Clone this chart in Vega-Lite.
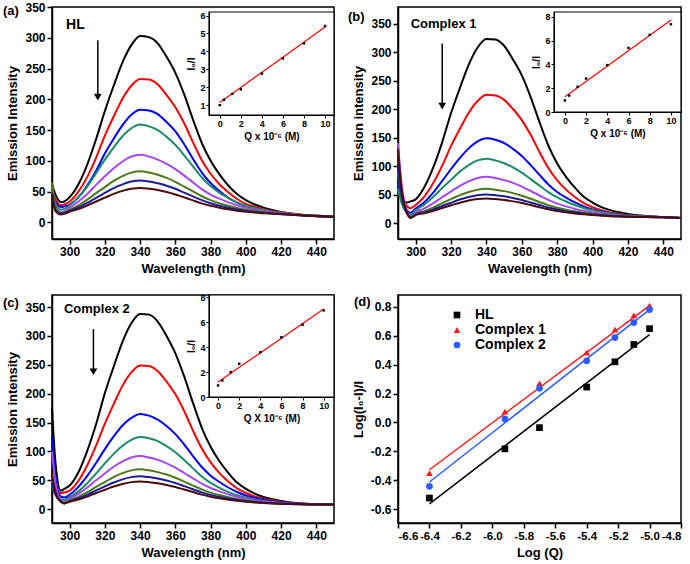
{
"$schema":"https://vega.github.io/schema/vega-lite/v6.json",
"padding":{"left":2,"top":0,"right":0,"bottom":0},
"config":{
 "font":"Liberation Sans",
 "locale":{"number":{"decimal":".","thousands":",","grouping":[3],"currency":["$",""],"minus":"-"}},
 "view":{"stroke":"#000","strokeWidth":1.5},
 "axis":{"domainColor":"#000","domainWidth":1.5,"tickColor":"#000","tickWidth":1.5,"tickSize":5,"labelFont":"Liberation Sans","labelFontWeight":"bold","labelFontSize":12,"labelColor":"#000","labelPadding":2,"titleFont":"Liberation Sans","titleFontWeight":"bold","titleFontSize":13,"titleColor":"#000","titlePadding":5,"grid":false},
 "text":{"font":"Liberation Sans","fontWeight":"bold","color":"#000"}
},
"datasets":{
 "a":[
 {"x":290,"c1":62,"c2":58,"c3":55,"c4":60,"c5":52,"c6":65,"c7":48,"c8":45},
 {"x":292,"c1":45,"c2":38,"c3":33,"c4":30,"c5":24,"c6":25,"c7":20,"c8":18},
 {"x":295,"c1":33,"c2":28,"c3":25,"c4":21,"c5":17,"c6":15,"c7":14,"c8":13},
 {"x":297,"c1":34,"c2":29,"c3":26,"c4":22,"c5":18,"c6":16,"c7":15,"c8":14},
 {"x":300,"c1":41,"c2":34,"c3":29,"c4":28,"c5":24,"c6":20.5,"c7":18.7,"c8":17.3},
 {"x":305,"c1":62,"c2":50,"c3":41,"c4":41,"c5":34,"c6":27.6,"c7":24.3,"c8":21.7},
 {"x":310,"c1":94,"c2":74,"c3":60,"c4":58,"c5":46,"c6":36.9,"c7":31.6,"c8":27.4},
 {"x":315,"c1":135,"c2":105,"c3":84,"c4":80,"c5":61,"c6":47.5,"c7":40,"c8":34},
 {"x":320,"c1":181,"c2":141,"c3":112,"c4":102,"c5":75,"c6":57.4,"c7":47.8,"c8":40.2},
 {"x":325,"c1":222,"c2":172,"c3":136,"c4":122,"c5":88,"c6":67.4,"c7":55.7,"c8":46.3},
 {"x":330,"c1":260,"c2":201,"c3":158,"c4":140,"c5":99,"c6":75.2,"c7":61.8,"c8":51.2},
 {"x":335,"c1":288,"c2":222,"c3":175,"c4":153,"c5":107,"c6":80.9,"c7":66.3,"c8":54.7},
 {"x":340,"c1":303,"c2":233,"c3":183,"c4":159,"c5":110,"c6":83,"c7":68,"c8":56},
 {"x":345,"c1":301,"c2":232,"c3":182,"c4":156,"c5":107,"c6":80.9,"c7":66.3,"c8":54.7},
 {"x":350,"c1":291,"c2":224,"c3":176,"c4":150,"c5":102,"c6":77.3,"c7":63.5,"c8":52.5},
 {"x":355,"c1":269,"c2":207,"c3":163,"c4":139,"c5":95,"c6":72.4,"c7":59.6,"c8":49.4},
 {"x":360,"c1":243,"c2":187,"c3":148,"c4":126,"c5":86.5,"c6":66,"c7":54.6,"c8":45.4},
 {"x":365,"c1":208,"c2":161,"c3":127,"c4":109,"c5":76,"c6":58,"c7":48.4,"c8":40.6},
 {"x":370,"c1":167,"c2":130,"c3":103,"c4":91,"c5":65,"c6":50.3,"c7":42.2,"c8":35.8},
 {"x":375,"c1":129,"c2":101,"c3":81,"c4":73,"c5":54,"c6":42.5,"c7":36.1,"c8":30.9},
 {"x":380,"c1":100,"c2":79,"c3":64,"c4":59,"c5":45,"c6":36.1,"c7":31,"c8":27},
 {"x":385,"c1":78,"c2":62,"c3":51,"c4":48,"c5":38.5,"c6":31.2,"c7":27.1,"c8":23.9},
 {"x":390,"c1":60,"c2":49,"c3":40,"c4":40,"c5":32.6,"c6":26.9,"c7":23.8,"c8":21.2},
 {"x":395,"c1":46,"c2":38,"c3":32,"c4":32,"c5":27.7,"c6":23.4,"c7":21,"c8":19},
 {"x":400,"c1":36,"c2":30,"c3":26,"c4":27,"c5":23.8,"c6":20.5,"c7":18.7,"c8":17.3},
 {"x":405,"c1":29,"c2":25,"c3":22,"c4":23,"c5":20.8,"c6":18.4,"c7":17,"c8":16},
 {"x":410,"c1":24,"c2":21,"c3":19,"c4":20,"c5":18.4,"c6":16.6,"c7":15.6,"c8":14.9},
 {"x":415,"c1":20,"c2":18,"c3":17,"c4":17,"c5":16.4,"c6":15.2,"c7":14.5,"c8":14},
 {"x":420,"c1":17,"c2":16,"c3":15,"c4":15.5,"c5":14.9,"c6":14.1,"c7":13.7,"c8":13.3},
 {"x":430,"c1":13,"c2":13,"c3":12,"c4":12.5,"c5":12.2,"c6":11.9,"c7":11.7,"c8":11.5},
 {"x":440,"c1":11,"c2":10,"c3":10,"c4":10.4,"c5":10.4,"c6":10.3,"c7":10.2,"c8":10.2},
 {"x":450,"c1":9,"c2":9,"c3":9,"c4":9,"c5":9,"c6":9,"c7":9,"c8":9}
 ],
 "b":[
 {"x":290,"c1":75,"c2":95,"c3":80,"c4":60,"c5":140,"c6":90,"c7":100,"c8":130},
 {"x":292,"c1":45,"c2":50,"c3":40,"c4":35,"c5":70,"c6":45,"c7":50,"c8":60},
 {"x":295,"c1":36,"c2":30,"c3":22,"c4":18,"c5":22,"c6":18,"c7":17,"c8":20},
 {"x":297,"c1":38,"c2":26,"c3":18,"c4":14,"c5":11,"c6":10,"c7":9,"c8":9},
 {"x":300,"c1":41.5,"c2":31.6,"c3":25.3,"c4":22.4,"c5":18.5,"c6":16,"c7":14.8,"c8":14},
 {"x":305,"c1":63.6,"c2":46.7,"c3":37.1,"c4":32.7,"c5":25.6,"c6":21,"c7":18.8,"c8":17.3},
 {"x":310,"c1":98,"c2":70.5,"c3":53.8,"c4":46,"c5":34.9,"c6":27.5,"c7":24,"c8":21.6},
 {"x":315,"c1":142,"c2":100.7,"c3":73.9,"c4":61.5,"c5":45.5,"c6":35,"c7":30,"c8":26.5},
 {"x":320,"c1":193,"c2":135.3,"c3":94.8,"c4":75.9,"c5":55.4,"c6":42,"c7":35.6,"c8":31.1},
 {"x":325,"c1":237,"c2":165.5,"c3":114.3,"c4":90.3,"c5":65.4,"c6":49,"c7":41.2,"c8":35.7},
 {"x":330,"c1":278,"c2":193.6,"c3":131,"c4":101.7,"c5":73.2,"c6":54.5,"c7":45.6,"c8":39.4},
 {"x":335,"c1":308,"c2":214,"c3":143.2,"c4":109.9,"c5":78.9,"c6":58.5,"c7":48.8,"c8":42},
 {"x":340,"c1":323,"c2":225,"c3":148.7,"c4":113,"c5":81,"c6":60,"c7":50,"c8":43},
 {"x":345,"c1":322,"c2":223.8,"c3":146.2,"c4":109.9,"c5":78.9,"c6":58.5,"c7":48.8,"c8":42},
 {"x":350,"c1":311,"c2":216,"c3":140.4,"c4":104.8,"c5":75.3,"c6":56,"c7":46.8,"c8":40.4},
 {"x":355,"c1":287,"c2":200,"c3":130.2,"c4":97.6,"c5":70.4,"c6":52.5,"c7":44,"c8":38},
 {"x":360,"c1":259,"c2":180.6,"c3":117.7,"c4":88.3,"c5":64,"c6":48,"c7":40.4,"c8":35.1},
 {"x":365,"c1":221,"c2":154.7,"c3":101.7,"c4":77,"c5":56.2,"c6":42.5,"c7":36,"c8":31.5},
 {"x":370,"c1":177,"c2":124.5,"c3":84.4,"c4":65.6,"c5":48.3,"c6":37,"c7":31.6,"c8":27.8},
 {"x":375,"c1":136,"c2":96.4,"c3":67.7,"c4":54.3,"c5":40.5,"c6":31.5,"c7":27.2,"c8":24.2},
 {"x":380,"c1":104.5,"c2":74.8,"c3":54.5,"c4":45,"c5":34.1,"c6":27,"c7":23.6,"c8":21.2},
 {"x":385,"c1":81,"c2":58.6,"c3":44.5,"c4":37.8,"c5":29.2,"c6":23.5,"c7":20.8,"c8":18.9},
 {"x":390,"c1":62,"c2":45.6,"c3":36.1,"c4":31.6,"c5":24.9,"c6":20.5,"c7":18.4,"c8":16.9},
 {"x":395,"c1":46,"c2":34.8,"c3":29.2,"c4":26.5,"c5":21.4,"c6":18,"c7":16.4,"c8":15.3},
 {"x":400,"c1":36,"c2":27.7,"c3":23.9,"c4":22.4,"c5":18.5,"c6":16,"c7":14.8,"c8":14},
 {"x":405,"c1":28,"c2":22.5,"c3":20.3,"c4":19.3,"c5":16.4,"c6":14.5,"c7":13.6,"c8":13},
 {"x":410,"c1":22.6,"c2":18.6,"c3":17.4,"c4":16.7,"c5":14.6,"c6":13.3,"c7":12.6,"c8":12.1},
 {"x":415,"c1":18.8,"c2":16,"c3":15.1,"c4":14.6,"c5":13.2,"c6":12.3,"c7":11.8,"c8":11.5},
 {"x":420,"c1":15.7,"c2":13.9,"c3":13.3,"c4":13.1,"c5":12.1,"c6":11.5,"c7":11.2,"c8":11},
 {"x":430,"c1":12.2,"c2":11.5,"c3":11.4,"c4":11.2,"c5":10.9,"c6":10.6,"c7":10.5,"c8":10.4},
 {"x":440,"c1":10.6,"c2":10.4,"c3":10.4,"c4":10.4,"c5":10.3,"c6":10.2,"c7":10.2,"c8":10.1},
 {"x":450,"c1":9,"c2":9,"c3":9,"c4":9,"c5":9,"c6":9,"c7":9,"c8":9}
 ],
 "c":[
 {"x":290,"c1":175,"c2":55,"c3":125,"c4":50,"c5":100,"c6":40,"c7":45,"c8":60},
 {"x":292,"c1":80,"c2":35,"c3":55,"c4":30,"c5":45,"c6":25,"c7":25,"c8":30},
 {"x":295,"c1":32,"c2":28,"c3":22,"c4":18,"c5":16,"c6":14,"c7":13,"c8":13},
 {"x":297,"c1":35,"c2":29,"c3":20,"c4":16,"c5":12,"c6":11,"c7":10,"c8":10},
 {"x":300,"c1":41,"c2":32,"c3":25,"c4":21,"c5":18,"c6":15.3,"c7":13.9,"c8":12.8},
 {"x":305,"c1":64,"c2":49,"c3":38.6,"c4":30.8,"c5":26.5,"c6":21.4,"c7":18.8,"c8":16.8},
 {"x":310,"c1":101,"c2":76,"c3":57.5,"c4":44.9,"c5":37.4,"c6":29.4,"c7":25.2,"c8":22},
 {"x":315,"c1":147,"c2":110,"c3":80,"c4":61.8,"c5":50,"c6":38.5,"c7":32.5,"c8":28},
 {"x":320,"c1":201,"c2":148,"c3":104,"c4":79.4,"c5":61.8,"c6":47,"c7":39.4,"c8":33.6},
 {"x":325,"c1":247,"c2":182,"c3":126,"c4":95.8,"c5":73.5,"c6":55.6,"c7":46.2,"c8":39.2},
 {"x":330,"c1":290,"c2":214,"c3":145,"c4":109.8,"c5":82.8,"c6":62.3,"c7":51.6,"c8":43.6},
 {"x":335,"c1":322,"c2":237,"c3":158,"c4":120,"c5":89.5,"c6":67.2,"c7":55.5,"c8":46.8},
 {"x":340,"c1":338,"c2":249,"c3":165,"c4":124.8,"c5":92,"c6":69,"c7":57,"c8":48},
 {"x":345,"c1":337,"c2":248,"c3":162,"c4":122.7,"c5":89.5,"c6":67.2,"c7":55.5,"c8":46.8},
 {"x":350,"c1":325,"c2":239,"c3":155,"c4":117.7,"c5":85.3,"c6":64.1,"c7":53.1,"c8":44.8},
 {"x":355,"c1":300,"c2":221,"c3":144,"c4":109.2,"c5":79.4,"c6":59.9,"c7":49.7,"c8":42},
 {"x":360,"c1":270,"c2":199,"c3":130,"c4":98.7,"c5":71.8,"c6":54.4,"c7":45.2,"c8":38.4},
 {"x":365,"c1":230,"c2":170,"c3":112,"c4":85.2,"c5":62.6,"c6":47.7,"c7":39.9,"c8":34},
 {"x":370,"c1":184,"c2":136,"c3":92,"c4":70.6,"c5":53.4,"c6":40.9,"c7":34.5,"c8":29.6},
 {"x":375,"c1":141,"c2":105,"c3":73,"c4":56.6,"c5":44.1,"c6":34.2,"c7":29.1,"c8":25.2},
 {"x":380,"c1":108,"c2":81,"c3":58,"c4":45.4,"c5":36.6,"c6":28.7,"c7":24.7,"c8":21.6},
 {"x":385,"c1":83,"c2":62.5,"c3":47,"c4":37,"c5":30.7,"c6":24.5,"c7":21.2,"c8":18.8},
 {"x":390,"c1":63,"c2":48,"c3":37.5,"c4":30,"c5":25.6,"c6":20.8,"c7":18.3,"c8":16.4},
 {"x":395,"c1":46,"c2":36,"c3":29.7,"c4":24.1,"c5":21.4,"c6":17.8,"c7":15.8,"c8":14.4},
 {"x":400,"c1":35,"c2":28,"c3":23.7,"c4":19.7,"c5":18.1,"c6":15.3,"c7":13.9,"c8":12.8},
 {"x":405,"c1":27,"c2":22,"c3":19.6,"c4":16.7,"c5":15.6,"c6":13.5,"c7":12.4,"c8":11.6},
 {"x":410,"c1":21,"c2":17.7,"c3":16.3,"c4":14.2,"c5":13.5,"c6":12,"c7":11.2,"c8":10.6},
 {"x":415,"c1":17,"c2":14.8,"c3":13.8,"c4":12.3,"c5":11.8,"c6":10.7,"c7":10.2,"c8":9.8},
 {"x":420,"c1":14,"c2":12.4,"c3":11.8,"c4":10.8,"c5":10.5,"c6":9.8,"c7":9.5,"c8":9.2},
 {"x":430,"c1":10.3,"c2":9.7,"c3":9.6,"c4":9.2,"c5":9,"c6":8.7,"c7":8.6,"c8":8.5},
 {"x":440,"c1":8.7,"c2":8.5,"c3":8.5,"c4":8.4,"c5":8.3,"c6":8.2,"c7":8.2,"c8":8.2},
 {"x":450,"c1":8,"c2":8,"c3":8,"c4":8,"c5":8,"c6":8,"c7":8,"c8":8}
 ],
 "d":[
 {"x":-6.4,"y":-0.524,"s":"HL"},{"x":-5.92,"y":-0.183,"s":"HL"},{"x":-5.7,"y":-0.036,"s":"HL"},{"x":-5.4,"y":0.245,"s":"HL"},{"x":-5.22,"y":0.42,"s":"HL"},{"x":-5.1,"y":0.54,"s":"HL"},{"x":-5.0,"y":0.65,"s":"HL"},
 {"x":-6.4,"y":-0.351,"s":"Complex 1"},{"x":-5.92,"y":0.075,"s":"Complex 1"},{"x":-5.7,"y":0.27,"s":"Complex 1"},{"x":-5.4,"y":0.484,"s":"Complex 1"},{"x":-5.22,"y":0.643,"s":"Complex 1"},{"x":-5.1,"y":0.742,"s":"Complex 1"},{"x":-5.0,"y":0.81,"s":"Complex 1"},
 {"x":-6.4,"y":-0.443,"s":"Complex 2"},{"x":-5.92,"y":0.024,"s":"Complex 2"},{"x":-5.7,"y":0.236,"s":"Complex 2"},{"x":-5.4,"y":0.427,"s":"Complex 2"},{"x":-5.22,"y":0.588,"s":"Complex 2"},{"x":-5.1,"y":0.692,"s":"Complex 2"},{"x":-5.0,"y":0.782,"s":"Complex 2"}
 ],
 "dl":[
 {"x":-6.4,"y":-0.565,"s":"HL"},{"x":-5.0,"y":0.609,"s":"HL"},
 {"x":-6.4,"y":-0.328,"s":"Complex 1"},{"x":-5.0,"y":0.81,"s":"Complex 1"},
 {"x":-6.4,"y":-0.413,"s":"Complex 2"},{"x":-5.0,"y":0.782,"s":"Complex 2"}
 ]
},
"columns":2,
"spacing":{"row":56,"column":64},
"bounds":"flush",
"resolve":{"scale":{"color":"independent","shape":"independent"},"legend":{"color":"independent","shape":"independent"}},
"concat":[
 {
  "width":282,"height":232,
  "layer":[
   {
    "encoding":{
     "x":{"field":"x","type":"quantitative","scale":{"domain":[290,450],"nice":false,"zero":false},"axis":{"values":[300,320,340,360,380,400,420,440],"title":"Wavelength (nm)"}},
     "y":{"field":"y","type":"quantitative","scale":{"domain":[-27,350],"nice":false,"zero":false},"axis":{"values":[0,50,100,150,200,250,300,350],"title":"Emission Intensity"}}
    },
    "layer":[
     {"data":{"name":"a"},"transform":[{"fold":["c1","c2","c3","c4","c5","c6","c7","c8"],"as":["k","y"]}],
      "mark":{"type":"line","interpolate":"monotone","strokeWidth":2},
      "encoding":{"color":{"field":"k","type":"nominal","scale":{"domain":["c1","c2","c3","c4","c5","c6","c7","c8"],"range":["#000000","#ff0000","#0000ff","#1b8a6b","#a646f5","#4a7a18","#1a1a9c","#4a0c0c"]},"legend":null}}},
     {"data":{"values":[{"x":316,"y":296,"y2":205}]},"mark":{"type":"rule","strokeWidth":1.5,"color":"#000"},"encoding":{"y2":{"field":"y2"}}},
     {"data":{"values":[{"x":316,"y":203.5}]},"mark":{"type":"point","shape":"triangle-down","filled":true,"size":60,"color":"#000","opacity":1}},
     {"data":{"values":[{"x":298,"y":320,"t":"HL"}]},"mark":{"type":"text","align":"left","baseline":"middle","fontSize":14},"encoding":{"text":{"field":"t"}}},
     {"data":{"values":[{"x":262.2,"y":343,"t":"(a)"}]},"mark":{"type":"text","align":"left","baseline":"middle","fontSize":13},"encoding":{"text":{"field":"t"}}}
    ]
   },
   {
    "encoding":{
     "x":{"field":"x","type":"quantitative","scale":{"domain":[-1.02,10.85],"range":[157,282],"nice":false,"zero":false},"axis":{"orient":"bottom","offset":-124,"zindex":1,"values":[0,2,4,6,8,10],"title":"Q x 10⁻⁶ (M)","labelFontSize":9,"titleFontSize":10,"tickSize":3,"tickWidth":1,"domainWidth":1,"labelPadding":1,"titlePadding":3}},
     "y":{"field":"y","type":"quantitative","scale":{"domain":[0.45,6.2],"range":[108,5],"nice":false,"zero":false},"axis":{"orient":"left","offset":-157,"zindex":1,"values":[1,2,3,4,5,6],"title":"I₀/I","labelFontSize":9,"titleFontSize":10,"tickSize":3,"tickWidth":1,"domainWidth":1,"labelPadding":1,"titlePadding":3}}
    },
    "layer":[
     {"data":{"values":[{"x":-1.02,"x2":10.85,"y":0.45,"y2":6.2}]},"mark":{"type":"rect","fill":"#fff","stroke":"#000","strokeWidth":1.2},"encoding":{"x2":{"field":"x2"},"y2":{"field":"y2"}}},
     {"data":{"values":[{"x":0,"y":1.15},{"x":10,"y":5.36}]},"mark":{"type":"line","color":"#ff0000","strokeWidth":1.2},"encoding":{}},
     {"data":{"values":[{"x":0,"y":1.0},{"x":0.4,"y":1.3},{"x":1.2,"y":1.63},{"x":2,"y":1.88},{"x":4,"y":2.76},{"x":6,"y":3.61},{"x":8,"y":4.45},{"x":10,"y":5.42}]},"mark":{"type":"point","shape":"square","filled":true,"size":6,"color":"#000","opacity":1}}
    ]
   }
  ],
  "resolve":{"scale":{"x":"independent","y":"independent"}}
 },
 {
  "width":283,"height":232,
  "layer":[
   {
    "encoding":{
     "x":{"field":"x","type":"quantitative","scale":{"domain":[290,450],"nice":false,"zero":false},"axis":{"values":[300,320,340,360,380,400,420,440],"title":"Wavelength (nm)"}},
     "y":{"field":"y","type":"quantitative","scale":{"domain":[-28,379],"nice":false,"zero":false},"axis":{"values":[0,50,100,150,200,250,300,350],"title":"Emission intensity"}}
    },
    "layer":[
     {"data":{"name":"b"},"transform":[{"fold":["c1","c2","c3","c4","c5","c6","c7","c8"],"as":["k","y"]}],
      "mark":{"type":"line","interpolate":"monotone","strokeWidth":2},
      "encoding":{"color":{"field":"k","type":"nominal","scale":{"domain":["c1","c2","c3","c4","c5","c6","c7","c8"],"range":["#000000","#ff0000","#0000ff","#1b8a6b","#a646f5","#4a7a18","#1a1a9c","#4a0c0c"]},"legend":null}}},
     {"data":{"values":[{"x":315,"y":315,"y2":207}]},"mark":{"type":"rule","strokeWidth":1.5,"color":"#000"},"encoding":{"y2":{"field":"y2"}}},
     {"data":{"values":[{"x":315,"y":205}]},"mark":{"type":"point","shape":"triangle-down","filled":true,"size":60,"color":"#000","opacity":1}},
     {"data":{"values":[{"x":297.2,"y":350,"t":"Complex 1"}]},"mark":{"type":"text","align":"left","baseline":"middle","fontSize":13},"encoding":{"text":{"field":"t"}}},
     {"data":{"values":[{"x":261.7,"y":361,"t":"(b)"}]},"mark":{"type":"text","align":"left","baseline":"middle","fontSize":13},"encoding":{"text":{"field":"t"}}}
    ]
   },
   {
    "encoding":{
     "x":{"field":"x","type":"quantitative","scale":{"domain":[-1.03,10.95],"range":[156,283],"nice":false,"zero":false},"axis":{"orient":"bottom","offset":-127,"zindex":1,"values":[0,2,4,6,8,10],"title":"Q x 10⁻⁶ (M)","labelFontSize":9,"titleFontSize":10,"tickSize":3,"tickWidth":1,"domainWidth":1,"labelPadding":1,"titlePadding":3}},
     "y":{"field":"y","type":"quantitative","scale":{"domain":[0,8.4],"range":[105,5],"nice":false,"zero":false},"axis":{"orient":"left","offset":-156,"zindex":1,"values":[0,2,4,6,8],"title":"I₀/I","labelFontSize":9,"titleFontSize":10,"tickSize":3,"tickWidth":1,"domainWidth":1,"labelPadding":1,"titlePadding":3}}
    },
    "layer":[
     {"data":{"values":[{"x":-1.03,"x2":10.95,"y":0,"y2":8.4}]},"mark":{"type":"rect","fill":"#fff","stroke":"#000","strokeWidth":1.2},"encoding":{"x2":{"field":"x2"},"y2":{"field":"y2"}}},
     {"data":{"values":[{"x":0,"y":1.28},{"x":10,"y":7.72}]},"mark":{"type":"line","color":"#ff0000","strokeWidth":1.2},"encoding":{}},
     {"data":{"values":[{"x":0,"y":0.97},{"x":0.4,"y":1.38},{"x":1.2,"y":2.12},{"x":2,"y":2.81},{"x":4,"y":3.94},{"x":6,"y":5.38},{"x":8,"y":6.48},{"x":10,"y":7.37}]},"mark":{"type":"point","shape":"square","filled":true,"size":6,"color":"#000","opacity":1}}
    ]
   }
  ],
  "resolve":{"scale":{"x":"independent","y":"independent"}}
 },
 {
  "width":282,"height":228,
  "layer":[
   {
    "encoding":{
     "x":{"field":"x","type":"quantitative","scale":{"domain":[290,450],"nice":false,"zero":false},"axis":{"values":[300,320,340,360,380,400,420,440],"title":"Wavelength (nm)"}},
     "y":{"field":"y","type":"quantitative","scale":{"domain":[-24,371],"nice":false,"zero":false},"axis":{"values":[0,50,100,150,200,250,300,350],"title":"Emission intensity"}}
    },
    "layer":[
     {"data":{"name":"c"},"transform":[{"fold":["c1","c2","c3","c4","c5","c6","c7","c8"],"as":["k","y"]}],
      "mark":{"type":"line","interpolate":"monotone","strokeWidth":2},
      "encoding":{"color":{"field":"k","type":"nominal","scale":{"domain":["c1","c2","c3","c4","c5","c6","c7","c8"],"range":["#000000","#ff0000","#0000ff","#1b8a6b","#a646f5","#4a7a18","#1a1a9c","#4a0c0c"]},"legend":null}}},
     {"data":{"values":[{"x":313.5,"y":312,"y2":240}]},"mark":{"type":"rule","strokeWidth":1.5,"color":"#000"},"encoding":{"y2":{"field":"y2"}}},
     {"data":{"values":[{"x":313.5,"y":238}]},"mark":{"type":"point","shape":"triangle-down","filled":true,"size":60,"color":"#000","opacity":1}},
     {"data":{"values":[{"x":296.8,"y":347,"t":"Complex 2"}]},"mark":{"type":"text","align":"left","baseline":"middle","fontSize":13},"encoding":{"text":{"field":"t"}}},
     {"data":{"values":[{"x":262.2,"y":358,"t":"(c)"}]},"mark":{"type":"text","align":"left","baseline":"middle","fontSize":13},"encoding":{"text":{"field":"t"}}}
    ]
   },
   {
    "encoding":{
     "x":{"field":"x","type":"quantitative","scale":{"domain":[-0.86,10.98],"range":[157,282],"nice":false,"zero":false},"axis":{"orient":"bottom","offset":-126,"zindex":1,"values":[0,2,4,6,8,10],"title":"Q X 10⁻⁶ (M)","labelFontSize":9,"titleFontSize":10,"tickSize":3,"tickWidth":1,"domainWidth":1,"labelPadding":1,"titlePadding":3}},
     "y":{"field":"y","type":"quantitative","scale":{"domain":[0,8.2],"range":[102,0],"nice":false,"zero":false},"axis":{"orient":"left","offset":-157,"zindex":1,"values":[0,2,4,6,8],"title":"I₀/I","labelFontSize":9,"titleFontSize":10,"tickSize":3,"tickWidth":1,"domainWidth":1,"labelPadding":1,"titlePadding":3}}
    },
    "layer":[
     {"data":{"values":[{"x":-0.86,"x2":10.98,"y":0,"y2":8.2}]},"mark":{"type":"rect","fill":"#fff","stroke":"#000","strokeWidth":1.2},"encoding":{"x2":{"field":"x2"},"y2":{"field":"y2"}}},
     {"data":{"values":[{"x":0,"y":1.2},{"x":10,"y":7.07}]},"mark":{"type":"line","color":"#ff0000","strokeWidth":1.2},"encoding":{}},
     {"data":{"values":[{"x":0,"y":0.93},{"x":0.4,"y":1.33},{"x":1.2,"y":2.0},{"x":2,"y":2.67},{"x":4,"y":3.6},{"x":6,"y":4.8},{"x":8,"y":5.81},{"x":10,"y":6.96}]},"mark":{"type":"point","shape":"square","filled":true,"size":6,"color":"#000","opacity":1}}
    ]
   }
  ],
  "resolve":{"scale":{"x":"independent","y":"independent"}}
 },
 {
  "width":283,"height":228,
  "encoding":{
   "x":{"field":"x","type":"quantitative","scale":{"domain":[-6.6,-4.8],"nice":false,"zero":false},"axis":{"values":[-6.6,-6.4,-6.2,-6.0,-5.8,-5.6,-5.4,-5.2,-5.0,-4.8],"format":".1f","title":"Log (Q)","labelFontSize":11.5}},
   "y":{"field":"y","type":"quantitative","scale":{"domain":[-0.697,0.883],"nice":false,"zero":false},"axis":{"values":[-0.6,-0.4,-0.2,0,0.2,0.4,0.6,0.8],"format":".1f","title":"Log(I₀-I)/I"}}
  },
  "layer":[
   {"data":{"name":"dl"},"transform":[{"filter":"datum.s === 'HL'"}],"mark":{"type":"line","strokeWidth":1.5,"color":"#000000"},"encoding":{}},
   {"data":{"name":"dl"},"transform":[{"filter":"datum.s === 'Complex 1'"}],"mark":{"type":"line","strokeWidth":1.5,"color":"#ff1a1a"},"encoding":{}},
   {"data":{"name":"dl"},"transform":[{"filter":"datum.s === 'Complex 2'"}],"mark":{"type":"line","strokeWidth":1.5,"color":"#2a5cff"},"encoding":{}},
   {"data":{"name":"d"},"mark":{"type":"point","filled":true,"size":45,"opacity":1},
    "encoding":{
     "color":{"field":"s","type":"nominal","scale":{"domain":["HL","Complex 1","Complex 2"],"range":["#000000","#ff1a1a","#2a5cff"]},"legend":{"title":null,"orient":"none","legendX":52,"legendY":13,"labelFontSize":14,"labelFontWeight":"bold","labelColor":"#000","labelFont":"Liberation Sans","labelOffset":11,"rowPadding":1,"symbolSize":45,"symbolOpacity":1}},
     "shape":{"field":"s","type":"nominal","scale":{"domain":["HL","Complex 1","Complex 2"],"range":["square","triangle-up","circle"]},"legend":{"title":null,"orient":"none","legendX":52,"legendY":13,"labelFontSize":14,"labelFontWeight":"bold","labelColor":"#000","labelFont":"Liberation Sans","labelOffset":11,"rowPadding":1,"symbolSize":45,"symbolOpacity":1}}
    }},
   {"data":{"values":[{"x":-6.88,"y":0.835,"t":"(d)"}]},"mark":{"type":"text","align":"left","baseline":"middle","fontSize":13},"encoding":{"text":{"field":"t"}}}
  ]
 }
]
}
